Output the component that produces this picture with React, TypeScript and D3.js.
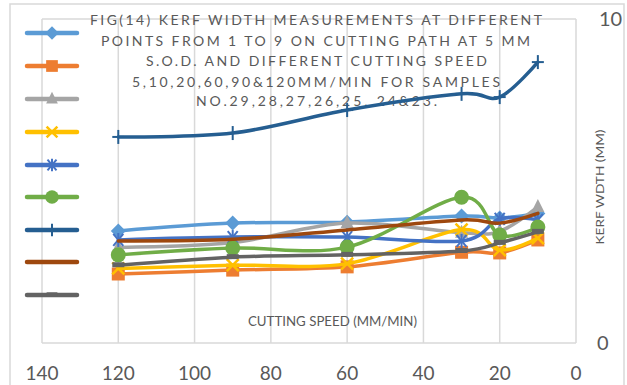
import React from "react";
import * as d3 from "d3";

const speeds = [120, 90, 60, 30, 20, 10];
const xTicks = [140, 120, 100, 80, 60, 40, 20, 0];
const yTicks = [0, 10];

const s1 = [3.46, 3.7, 3.73, 3.92, 3.86, 4.0];
const s2 = [2.13, 2.25, 2.35, 2.8, 2.78, 3.18];
const s3 = [2.95, 3.1, 3.7, 3.4, 3.45, 4.2];
const s4 = [2.3, 2.4, 2.45, 3.5, 2.87, 3.24];
const s5 = [3.18, 3.27, 3.27, 3.15, 3.83, 3.8];
const s6 = [2.72, 2.93, 2.96, 4.5, 3.33, 3.58];
const s7 = [6.36, 6.48, 7.19, 7.69, 7.59, 8.67];
const s8 = [3.15, 3.2, 3.49, 3.8, 3.7, 4.0];
const s9 = [2.4, 2.65, 2.72, 2.84, 3.09, 3.43];

const seriesValues = [s1, s2, s3, s4, s5, s6, s7, s8, s9];
const seriesColors = ["#5B9BD5", "#ED7D31", "#A5A5A5", "#FFC000", "#4472C4", "#70AD47", "#255E91", "#9E480E", "#636363"];
const seriesMarkers = ["diamond", "square", "triangle", "x", "star", "circle", "plus", "none", "dash"];

const titleLines = [
  "FIG(14) KERF WIDTH MEASUREMENTS AT DIFFERENT",
  "POINTS FROM 1 TO 9 ON CUTTING PATH AT 5 MM",
  "S.O.D. AND DIFFERENT CUTTING SPEED",
  "5,10,20,60,90&120MM/MIN FOR SAMPLES",
  "NO.29,28,27,26,25, 24&23.",
];
const titleStarts = [90, 101, 146, 132, 196];
const titleWidths = [452, 429, 341, 368, 241];
const titleBaselines = [25, 46, 66, 87, 106];

const xTitle = "CUTTING SPEED (MM/MIN)";
const yTitle = "KERF WDTH (MM)";

function Marker({ type, cx, cy, color, s = 1 }: { type: string; cx: number; cy: number; color: string; s?: number }) {
  switch (type) {
    case "diamond":
      return <path d={`M${cx},${cy - 7.5 * s}L${cx + 7.5 * s},${cy}L${cx},${cy + 7.5 * s}L${cx - 7.5 * s},${cy}Z`} fill={color} />;
    case "square":
      return <rect x={cx - 6.5 * s} y={cy - 6.5 * s} width={13 * s} height={13 * s} fill={color} />;
    case "triangle":
      return <path d={`M${cx},${cy - 8 * s}L${cx + 6.5 * s},${cy + 5 * s}L${cx - 6.5 * s},${cy + 5 * s}Z`} fill={color} />;
    case "x":
      return (
        <g stroke={color} strokeWidth={2.5}>
          <line x1={cx - 6 * s} y1={cy - 6 * s} x2={cx + 6 * s} y2={cy + 6 * s} />
          <line x1={cx - 6 * s} y1={cy + 6 * s} x2={cx + 6 * s} y2={cy - 6 * s} />
        </g>
      );
    case "star":
      return (
        <g stroke={color} strokeWidth={2}>
          <line x1={cx - 5 * s} y1={cy - 6 * s} x2={cx + 5 * s} y2={cy + 6 * s} />
          <line x1={cx - 5 * s} y1={cy + 6 * s} x2={cx + 5 * s} y2={cy - 6 * s} />
          <line x1={cx} y1={cy - 7 * s} x2={cx} y2={cy + 7 * s} />
        </g>
      );
    case "circle":
      return <circle cx={cx} cy={cy} r={7.5 * s} fill={color} />;
    case "plus":
      return (
        <g stroke={color} strokeWidth={2}>
          <line x1={cx} y1={cy - 7 * s} x2={cx} y2={cy + 7 * s} />
          <line x1={cx - 6 * s} y1={cy} x2={cx + 6 * s} y2={cy} />
        </g>
      );
    case "dash":
      return <rect x={cx - 6 * s} y={cy - 3 * s} width={12 * s} height={5 * s} fill={color} />;
    default:
      return null;
  }
}

export default function App() {
  const W = 627;
  const H = 385;
  const x = d3.scaleLinear().domain([140, 0]).range([42, 576]);
  const y = d3.scaleLinear().domain([0, 10]).range([343, 19]);
  const line = d3
    .line<number>()
    .x((_, i) => x(speeds[i]))
    .y((d) => y(d))
    .curve(d3.curveCardinal.tension(0));

  const gridColor = "#D9D9D9";
  const textColor = "#595959";
  const legendYs = [33, 66, 99, 132, 165, 197, 230, 262, 295];

  return (
    <svg width={W} height={H} style={{ position: "absolute", left: 0, top: 0, background: "#fff" }} fontFamily="Lato, 'Open Sans', sans-serif">
      <rect x={10} y={4} width={614} height={400} fill="#fff" stroke={gridColor} strokeWidth={1.5} />
      {xTicks.map((t) => (
        <line key={t} x1={x(t)} x2={x(t)} y1={y(10)} y2={y(0)} stroke={gridColor} strokeWidth={1.5} />
      ))}
      {yTicks.map((t) => (
        <line key={t} x1={x(140)} x2={x(0)} y1={y(t)} y2={y(t)} stroke={gridColor} strokeWidth={1.5} />
      ))}
      {titleLines.map((t, i) => (
        <text
          key={i}
          x={titleStarts[i]}
          y={titleBaselines[i]}
          fontSize={14}
          fill={textColor}
          textLength={titleWidths[i]}
          lengthAdjust="spacing"
        >
          {t}
        </text>
      ))}
      {xTicks.map((t) => (
        <text key={t} x={x(t)} y={380} fontSize={19} fill={textColor} textAnchor="middle">
          {t}
        </text>
      ))}
      {yTicks.map((t) => (
        <text key={t} x={t === 10 ? 599 : 597} y={y(t) + 7} fontSize={20} fill={textColor}>
          {t}
        </text>
      ))}
      <text x={248} y={326} fontSize={13} fill={textColor} textLength={169} lengthAdjust="spacingAndGlyphs">
        {xTitle}
      </text>
      <text
        transform={`translate(604,${187}) rotate(-90)`}
        fontSize={12}
        fill={textColor}
        textAnchor="middle"
        textLength={115}
        lengthAdjust="spacingAndGlyphs"
      >
        {yTitle}
      </text>
      {seriesValues.map((vals, si) => (
        <g key={si}>
          <path d={line(vals) || ""} fill="none" stroke={seriesColors[si]} strokeWidth={3.5} strokeLinejoin="round" strokeLinecap="round" />
          {vals.map((v, i) => (
            <Marker key={i} type={seriesMarkers[si]} cx={x(speeds[i])} cy={y(v)} color={seriesColors[si]} />
          ))}
        </g>
      ))}
      {seriesColors.map((c, i) => (
        <g key={i}>
          <line x1={27} x2={77} y1={legendYs[i]} y2={legendYs[i]} stroke={c} strokeWidth={4.5} strokeLinecap="round" />
          <Marker type={seriesMarkers[i]} cx={52} cy={legendYs[i]} color={c} s={0.9} />
        </g>
      ))}
    </svg>
  );
}
